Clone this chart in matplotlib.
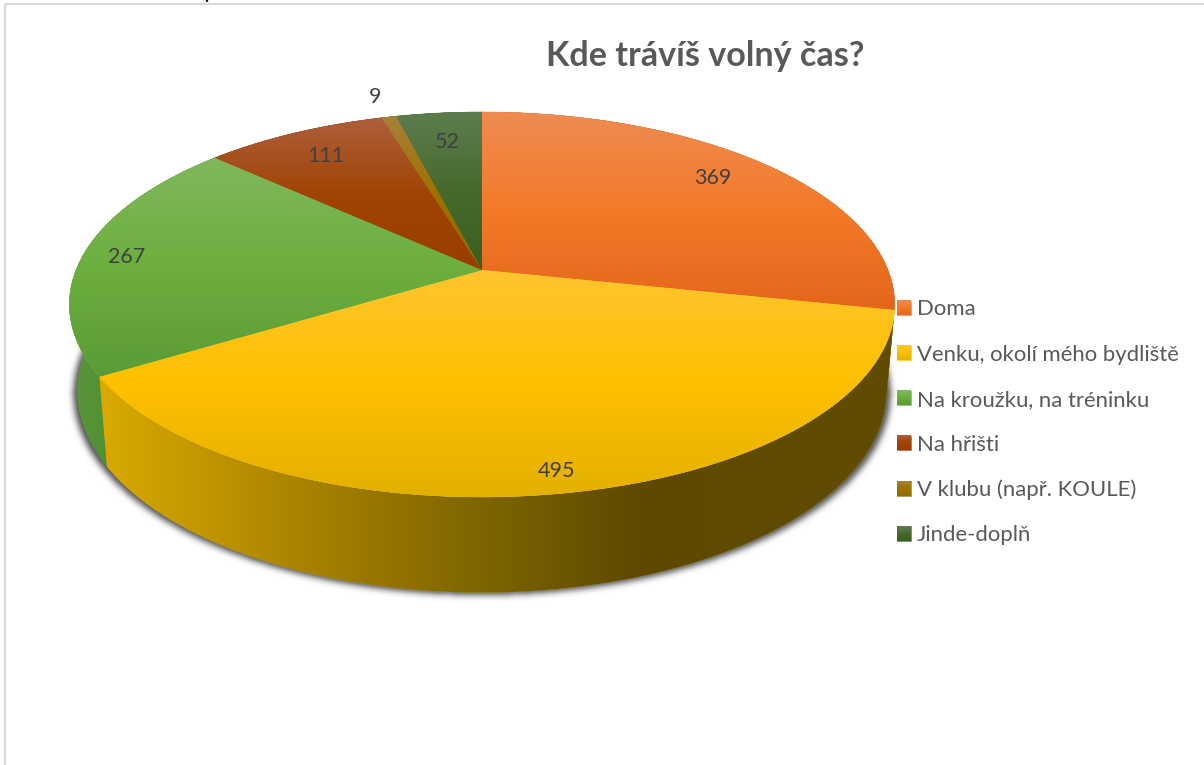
import numpy as np
import matplotlib
matplotlib.use("Agg")
import matplotlib.pyplot as plt
from matplotlib.path import Path
from matplotlib.patches import PathPatch
from matplotlib.transforms import Transform, Bbox
from matplotlib.colors import to_rgb

title = "Kde trávíš volný čas?"
categories = ["Doma", "Venku, okolí mého bydliště", "Na kroužku, na tréninku",
              "Na hřišti", "V klubu (např. KOULE)", "Jinde-doplň"]
values = [369, 495, 267, 111, 9, 52]
colors = ["#F37A29", "#FFC000", "#6CAF3E", "#A04405", "#9E7200", "#456A2C"]
top_colors = ["#EF8B52", "#FEC52F", "#80B85C", "#AE5F3C", "#A8803A", "#5E7D50"]
low_colors = ["#E4661A", "#E3B000", "#5A9B36", "#9A3E00", "#8F6C00", "#3B5F20"]
wall_colors = [["#7A4010", "#7A4010"],
               ["#DAAA00", "#A07C00", "#7E6500", "#5D4900", "#614D00"],
               ["#5C9A38", "#4E8C34"],
               ["#6A3008", "#6A3008"], ["#6A5000", "#6A5000"], ["#2C4A1C", "#2C4A1C"]]
wall_stops = [[60, 900], [100, 340, 480, 640, 900], [60, 120],
              [60, 900], [60, 900], [60, 900]]

W, H = 1204, 765
TEXT = "#595959"
LABEL = "#404040"
FONT = ["Lato", "DejaVu Sans"]


class Tilt(Transform):
    """Perspective view of the flat pie disc: disc coordinates to pixels."""
    input_dims = output_dims = 2

    def __init__(self, cx, cy, a, b, p):
        super().__init__()
        self.cx, self.cy, self.a, self.b, self.p = cx, cy, a, b, p

    def transform_non_affine(self, xy):
        xy = np.asarray(xy, float)
        d = 1 + self.p * xy[:, 1]
        return np.column_stack([self.cx + self.a * xy[:, 0] / d,
                                self.cy - self.b * xy[:, 1] / d])


top_plane = Tilt(482, 270, 406, 186.3, 0.179)
bottom_plane = Tilt(482, 355, 398, 195, 0.179)
shadow_plane = Tilt(482, 357.5, 402, 195, 0.179)

fig = plt.figure(figsize=(W / 100, H / 100), dpi=100, facecolor="white")
ax = fig.add_axes([0, 0, 1, 1])
wedges, _ = ax.pie(values, colors=colors, startangle=90, counterclock=False, frame=True)
ax.set_aspect("auto")
ax.set_xlim(0, W)
ax.set_ylim(H, 0)
ax.axis("off")


def circle(t1, t2, n=160):
    t = np.radians(np.linspace(t1, t2, n))
    return np.column_stack([np.cos(t), np.sin(t)])


def shade(i, n=128):
    f = np.linspace(0, 1, n)
    rgb = np.array([to_rgb(top_colors[i]), to_rgb(colors[i]), to_rgb(low_colors[i])])
    return np.stack([np.interp(f, [0, 0.5, 1], rgb[:, k]) for k in range(3)], axis=1)[:, None, :]


# soft shadow under the disc: rasterised outline, blurred
rim = shadow_plane.transform(circle(0, 360, 360))
gx, gy = np.meshgrid(np.arange(W) + 0.5, np.arange(H) + 0.5)
mask = Path(rim).contains_points(np.column_stack([gx.ravel(), gy.ravel()])).reshape(H, W).astype(float)
r = np.arange(-10, 11)
kernel = np.exp(-r ** 2 / (2 * 3.2 ** 2))
kernel /= kernel.sum()
mask = np.apply_along_axis(lambda row: np.convolve(row, kernel, mode="same"), 1, mask)
mask = np.apply_along_axis(lambda col: np.convolve(col, kernel, mode="same"), 0, mask)
shadow = np.zeros((H, W, 4))
shadow[..., :3] = to_rgb("#303030")
shadow[..., 3] = mask * 0.85
ax.imshow(shadow, extent=(0, W, H, 0), aspect="auto", interpolation="nearest", zorder=1)

# side walls, far slices first
order = [3, 4, 5, 0, 2, 1]
for i in order:
    w = wedges[i]
    upper = top_plane.transform(circle(w.theta1, w.theta2))
    lower = bottom_plane.transform(circle(w.theta1, w.theta2))
    poly = np.vstack([upper, lower[::-1]])
    patch = PathPatch(Path(np.vstack([poly, poly[0]]), closed=True), fc=wall_colors[i][0],
                      ec="none", zorder=2 + order.index(i) * 0.01, transform=ax.transData)
    ax.add_patch(patch)
    xs = np.arange(0, W)
    rgb = np.array(list(map(to_rgb, wall_colors[i])))
    grad = np.stack([np.interp(xs, wall_stops[i], rgb[:, k]) for k in range(3)], axis=1)[None]
    im = ax.imshow(grad, extent=(0, W, H, 0), aspect="auto", interpolation="bilinear",
                   zorder=2 + order.index(i) * 0.01 + 0.001)
    im.set_clip_path(patch)

# top faces: the wedges from ax.pie, seen through the tilt
for i, w in enumerate(wedges):
    w.set_transform(top_plane + ax.transData)
    w.set_zorder(3)
    w.set_edgecolor(top_colors[i])
    w.set_linewidth(0.4)
    pts = top_plane.transform(np.vstack([circle(w.theta1, w.theta2), [[0, 0]]]))
    y0, y1 = pts[:, 1].min(), pts[:, 1].max()
    im = ax.imshow(shade(i), extent=(0, W, y1, y0), aspect="auto",
                   interpolation="bilinear", zorder=3.1)
    im.set_clip_path(w)
ax.set_xlim(0, W)
ax.set_ylim(H, 0)

# data labels
label_xy = [(713, 178), (557, 471), (127, 257), (326, 156), (375, 97), (447, 142)]
for v, (x, y) in zip(values, label_xy):
    ax.text(x, y, str(v), ha="center", va="center", fontsize=15.5, color=LABEL,
            family=FONT, zorder=5)

ax.text(705, 55.5, title, ha="center", va="center", fontsize=24.6, fontweight="bold",
        color=TEXT, family=FONT, zorder=5)

# legend with gradient swatches
leg = ax.legend(wedges, categories, loc="upper left", bbox_to_anchor=(897 / W, 1 - 299.5 / H),
                bbox_transform=ax.transAxes, frameon=False, labelcolor=TEXT,
                prop={"family": FONT, "size": 15.9}, handlelength=0.63, handleheight=0.63,
                handletextpad=0.27, labelspacing=1.135, borderpad=0, borderaxespad=0)
leg.set_zorder(5)
fig.canvas.draw()
inv = ax.transData.inverted()
for i, h in enumerate(leg.get_patches()):
    bb = Bbox(inv.transform(h.get_window_extent()))
    x0, x1 = sorted(bb.intervalx)
    y0, y1 = sorted(bb.intervaly)
    ax.imshow(shade(i), extent=(x0, x1, y1, y0), aspect="auto",
              interpolation="bilinear", zorder=6)
ax.set_xlim(0, W)
ax.set_ylim(H, 0)

# chart frame
ax.plot([5, W], [4, 4], color="#DADADA", lw=1.6, zorder=0, solid_capstyle="butt")
ax.plot([5, 5], [4, H], color="#DADADA", lw=1.6, zorder=0, solid_capstyle="butt")
ax.plot([206.5, 206.5], [0, 2], color="#202020", lw=1.6, zorder=0, solid_capstyle="butt")

fig.savefig("out.png", dpi=100, facecolor="white")
